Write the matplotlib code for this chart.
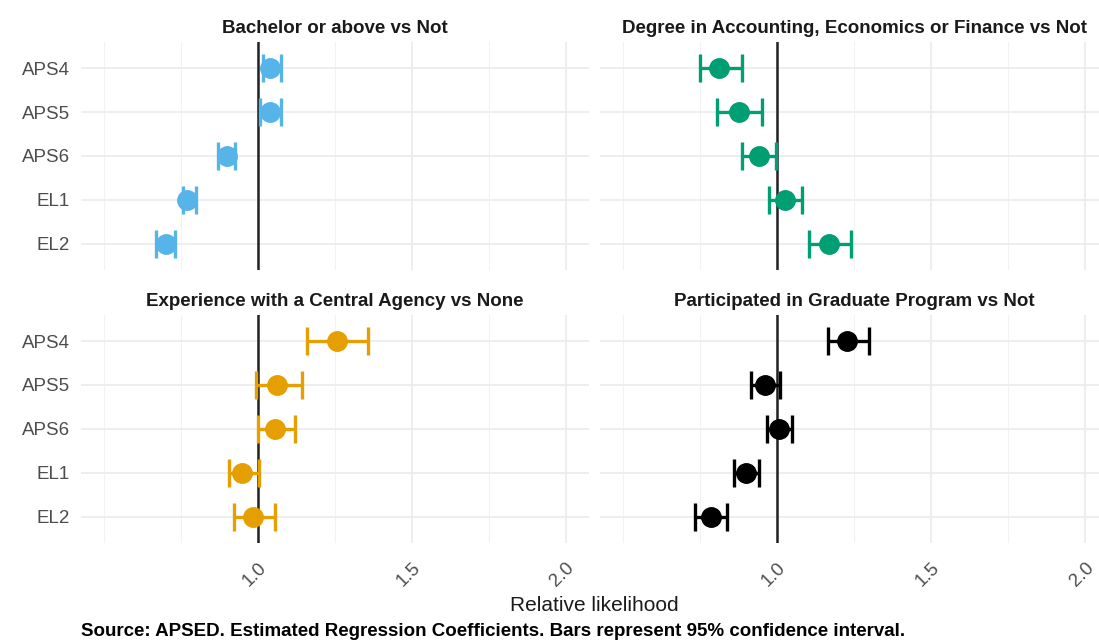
import matplotlib.pyplot as plt
from matplotlib.ticker import FixedLocator

plt.rcParams["font.family"] = ["Liberation Sans", "DejaVu Sans"]

# categories (top to bottom) and panel titles
levels = ["APS4", "APS5", "APS6", "EL1", "EL2"]
panel_titles = ["Bachelor or above vs Not",
                "Degree in Accounting, Economics or Finance vs Not",
                "Experience with a Central Agency vs None",
                "Participated in Graduate Program vs Not"]
panel_colors = ["#56B4E9", "#009E73", "#E69F00", "#000000"]

# estimates and 95% CI
bachelor_est = [1.04, 1.04, 0.90, 0.77, 0.70]
bachelor_lo = [1.015, 1.005, 0.87, 0.755, 0.67]
bachelor_hi = [1.075, 1.075, 0.925, 0.80, 0.73]

degree_est = [0.81, 0.877, 0.94, 1.026, 1.17]
degree_lo = [0.75, 0.805, 0.885, 0.975, 1.105]
degree_hi = [0.885, 0.95, 0.997, 1.08, 1.24]

central_est = [1.256, 1.062, 1.056, 0.948, 0.985]
central_lo = [1.16, 0.995, 1.0, 0.906, 0.922]
central_hi = [1.357, 1.143, 1.12, 1.003, 1.056]

grad_est = [1.227, 0.96, 1.006, 0.90, 0.786]
grad_lo = [1.165, 0.915, 0.968, 0.86, 0.735]
grad_hi = [1.30, 1.01, 1.048, 0.94, 0.838]

panels = [(bachelor_est, bachelor_lo, bachelor_hi),
          (degree_est, degree_lo, degree_hi),
          (central_est, central_lo, central_hi),
          (grad_est, grad_lo, grad_hi)]

x_ticks = [1.0, 1.5, 2.0]
x_minor = [0.5, 0.75, 1.25, 1.75]

fig = plt.figure(figsize=(10.99, 6.43), dpi=100)

# panel boxes in figure fraction [left, bottom, width, height]
# (right column runs slightly past the image edge, as in the original)
boxes = [[0.0737, 0.580, 0.4622, 0.355],
         [0.546, 0.580, 0.4622, 0.355],
         [0.0737, 0.1555, 0.4622, 0.355],
         [0.546, 0.1555, 0.4622, 0.355]]

ypos = list(range(len(levels)))

for i, (est, lo, hi) in enumerate(panels):
    ax = fig.add_axes(boxes[i])
    xerr = [[e - l for e, l in zip(est, lo)], [h - e for e, h in zip(est, hi)]]
    ax.axvline(1.0, color="#222222", lw=1.8, zorder=2)
    ax.errorbar(est, ypos, xerr=xerr, fmt="o", color=panel_colors[i], ms=14,
                elinewidth=2.4, capsize=10, capthick=2.4, zorder=3)
    ax.set_xlim(0.425, 2.075)
    ax.set_ylim(4.6, -0.6)
    ax.xaxis.set_major_locator(FixedLocator(x_ticks))
    ax.xaxis.set_minor_locator(FixedLocator(x_minor))
    ax.set_yticks(ypos)
    ax.set_yticklabels(levels)
    ax.grid(True, which="major", color="#EBEBEB", lw=1.2, zorder=0)
    ax.grid(True, which="minor", axis="x", color="#F2F2F2", lw=0.8, zorder=0)
    ax.set_axisbelow(True)
    for s in ax.spines.values():
        s.set_visible(False)
    ax.tick_params(which="both", length=0)
    ax.tick_params(axis="y", pad=8, labelsize=13.5, labelcolor="#4D4D4D")
    ax.tick_params(axis="x", pad=12, labelsize=13.5, labelcolor="#4D4D4D")
    if i % 2 == 1:
        ax.set_yticklabels([])
    if i < 2:
        ax.set_xticklabels([])
    else:
        ax.set_xticklabels(["1.0", "1.5", "2.0"], rotation=45, ha="right",
                           va="top", rotation_mode="anchor")
    ax.set_title(panel_titles[i], fontsize=13.5, fontweight="bold",
                 color="#1A1A1A", pad=6)

fig.text(0.541, 0.058, "Relative likelihood", ha="center", va="center",
         fontsize=15, color="#1A1A1A")
fig.text(0.074, 0.018, "Source: APSED. Estimated Regression Coefficients. "
         "Bars represent 95% confidence interval.", ha="left", va="center",
         fontsize=13.5, fontweight="bold", color="#000000")

fig.savefig("out.png", dpi=100, facecolor="white")
